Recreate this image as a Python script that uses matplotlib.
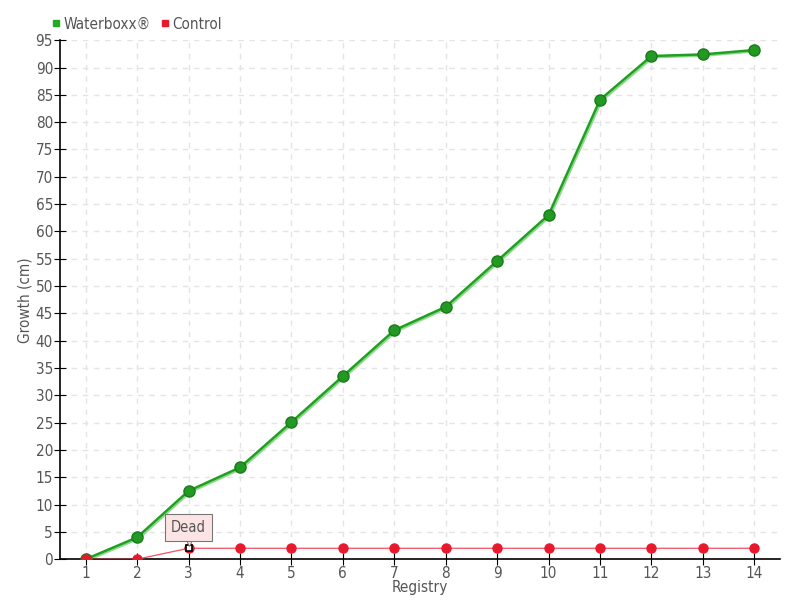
import matplotlib.pyplot as plt
from matplotlib.lines import Line2D

registry = list(range(1, 15))
waterboxx = [0, 4.0, 12.5, 16.8, 25.1, 33.5, 41.9, 46.2, 54.6, 63.0, 84.1, 92.1, 92.4, 93.2]
control = [0, 0, 2, 2, 2, 2, 2, 2, 2, 2, 2, 2, 2, 2]
y_ticks = list(range(0, 100, 5))

plt.rcParams["font.family"] = ["DejaVu Sans"]
plt.rcParams["font.stretch"] = "condensed"
txt = "#555555"

fig = plt.figure(figsize=(8, 6), dpi=100)
ax = fig.add_axes([0.075, 0.068, 0.9, 0.865])

# faint shadow under the green line, then the line itself
ax.plot([x + 0.03 for x in registry], [v - 0.25 for v in waterboxx], color="#8fd88f", lw=1.5, zorder=2)
ax.plot(registry, waterboxx, color="#1fa01f", lw=1.8, marker="o", ms=8,
        mfc="#229922", mec="#1a7a1a", zorder=3)
ax.plot(registry, control, color="#f05060", lw=0.9, marker="o", ms=6.5,
        mfc="#e8192c", mec="#e8192c", zorder=3)
ax.plot(registry[2], control[2], marker="s", ms=5, mfc="white", mec="black", mew=1.2, zorder=4)

# "Dead" callout above the third control point
ax.text(registry[2], control[2] + 3.8, "Dead", ha="center", va="center", fontsize=10.5, color=txt,
        bbox=dict(boxstyle="square,pad=0.4", fc="#fde4e4", ec="#777777", lw=0.8), zorder=5)
ax.plot(registry[2], control[2] + 0.95, marker="v", ms=5, mfc="#fde4e4", mec="#777777", mew=0.6, zorder=4.5)

ax.set_xlim(0.5, 14.5)
ax.set_ylim(0, 95)
ax.set_xticks(registry)
ax.set_yticks(y_ticks)
ax.grid(True, color="#e4e4e4", ls=(0, (4, 4)), lw=1)
ax.set_axisbelow(True)
for s in ["top", "right"]:
    ax.spines[s].set_visible(False)
ax.spines["left"].set_linewidth(1.2)
ax.spines["bottom"].set_linewidth(1.2)
ax.tick_params(direction="inout", length=8, labelsize=11, labelcolor=txt, pad=1)
ax.set_xlabel("Registry", fontsize=11, color=txt, labelpad=-1)
ax.set_ylabel("Growth (cm)", fontsize=11, color=txt, labelpad=2)

handles = [Line2D([], [], ls="none", marker="s", ms=5, mfc="#22aa22", mec="#22aa22"),
           Line2D([], [], ls="none", marker="s", ms=5, mfc="#e8192c", mec="#e8192c")]
fig.legend(handles, ["Waterboxx®", "Control"], loc="upper left", bbox_to_anchor=(0.045, 0.995),
           ncol=2, frameon=False, fontsize=11, labelcolor=txt, handletextpad=0.1,
           columnspacing=0.5, handlelength=0.8)

fig.savefig("out.png")
